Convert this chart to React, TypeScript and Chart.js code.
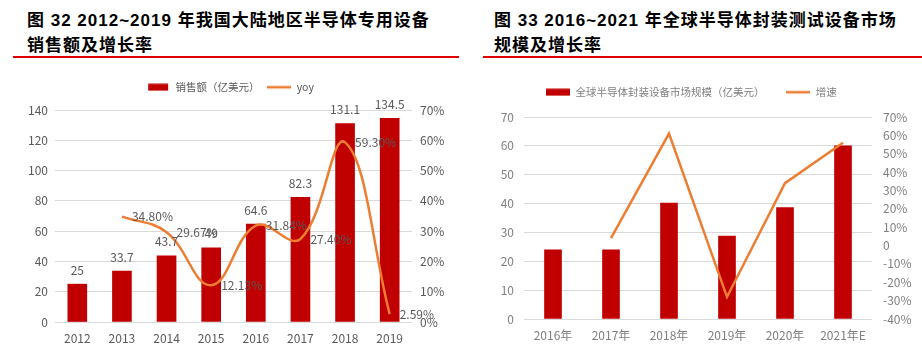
import React, { useEffect, useRef } from 'react';
import { Chart, registerables } from 'chart.js';

Chart.register(...registerables);

// ---- Data: left chart (图32) ----
const leftYears = ['2012', '2013', '2014', '2015', '2016', '2017', '2018', '2019'];
const leftSales = [25, 33.7, 43.7, 49, 64.6, 82.3, 131.1, 134.5];
const leftYoy: (number | null)[] = [null, 34.8, 29.67, 12.13, 31.84, 27.4, 59.3, 2.59];
const leftSalesLabel = '销售额（亿美元）';
const leftYoyLabel = 'yoy';

// ---- Data: right chart (图33) ----
const rightYears = ['2016年', '2017年', '2018年', '2019年', '2020年', '2021年E'];
const rightMarket = [24, 24, 40.2, 28.7, 38.6, 60];
const rightGrowth: (number | null)[] = [null, 4, 61, -28, 34, 56];
const rightMarketLabel = '全球半导体封装设备市场规模（亿美元）';
const rightGrowthLabel = '增速';

const RED = '#C00000';
const ORANGE = '#ED7D31';
const GRID = '#D9D9D9';
const TICK = '#595959';
const FONT = '"Noto Sans CJK SC", "Liberation Sans", sans-serif';

function makeIcon(w: number, h: number, color: string, boxW: number, boxH: number) {
  const c = document.createElement('canvas');
  c.width = boxW;
  c.height = boxH;
  const ctx = c.getContext('2d')!;
  ctx.fillStyle = color;
  ctx.fillRect((boxW - w) / 2, (boxH - h) / 2, w, h);
  return c;
}

function legendOpts(labelColor: string, padding: number, barW: number) {
  const barIcon = makeIcon(barW, 7, RED, 24, 8);
  const lineIcon = makeIcon(24, 2.5, ORANGE, 24, 8);
  return {
    display: true,
    position: 'top' as const,
    labels: {
      usePointStyle: true,
      pointStyleWidth: 24,
      boxHeight: 8,
      color: labelColor,
      font: { family: FONT, size: 10.5 },
      padding,
      sort: (a: any, b: any) => a.datasetIndex - b.datasetIndex,
      generateLabels: (chart: any) => {
        const items = Chart.defaults.plugins.legend.labels.generateLabels(chart);
        items.forEach((it: any) => {
          it.pointStyle = it.datasetIndex === 0 ? barIcon : lineIcon;
        });
        return items;
      },
    },
  };
}

const legendSpacer = (extra: number) => ({
  id: 'legendSpacer',
  beforeLayout(chart: any) {
    const lg = chart.legend;
    if (lg && !lg.__patched) {
      const orig = lg.fit.bind(lg);
      lg.fit = function () {
        orig();
        this.height += extra;
      };
      lg.__patched = true;
    }
  },
});

const leftLabelPlugin = {
  id: 'leftLabels',
  afterDatasetsDraw(chart: any) {
    const ctx = chart.ctx;
    ctx.save();
    ctx.font = `12px ${FONT}`;
    ctx.fillStyle = TICK;
    const barMeta = chart.getDatasetMeta(0);
    barMeta.data.forEach((el: any, i: number) => {
      ctx.textAlign = 'center';
      ctx.textBaseline = 'middle';
      ctx.fillText(String(leftSales[i]), el.x, el.y - 14);
    });
    const lineMeta = chart.getDatasetMeta(1);
    lineMeta.data.forEach((el: any, i: number) => {
      const v = leftYoy[i];
      if (v == null || el.skip) return;
      ctx.textAlign = 'left';
      ctx.textBaseline = 'middle';
      ctx.fillText(v.toFixed(2) + '%', el.x + 10, el.y);
    });
    ctx.restore();
  },
};

function LeftChart() {
  const ref = useRef<HTMLCanvasElement>(null);
  useEffect(() => {
    const chart = new Chart(ref.current!, {
      type: 'bar',
      data: {
        labels: leftYears,
        datasets: [
          {
            type: 'bar',
            label: leftSalesLabel,
            data: leftSales,
            backgroundColor: RED,
            barThickness: 19,
            yAxisID: 'y',
            order: 1,
          },
          {
            type: 'line',
            label: leftYoyLabel,
            data: leftYoy,
            borderColor: ORANGE,
            backgroundColor: ORANGE,
            borderWidth: 2.5,
            pointRadius: 0,
            tension: 0.4,
            yAxisID: 'y1',
            order: 0,
          },
        ],
      } as any,
      options: {
        responsive: false,
        animation: false,
        layout: { padding: { top: 12, left: 0, right: 0, bottom: 0 } },
        plugins: {
          legend: legendOpts(TICK, 8, 20) as any,
          tooltip: { enabled: false },
        },
        scales: {
          x: {
            grid: { display: false, drawTicks: false },
            border: { display: false },
            ticks: { color: TICK, font: { family: FONT, size: 12 }, padding: 9 },
            afterFit: (s: any) => { s.height = 39; },
          },
          y: {
            position: 'left',
            min: 0,
            max: 140,
            ticks: { stepSize: 20, color: TICK, font: { family: FONT, size: 12 }, padding: 7 },
            grid: { color: GRID, lineWidth: 1, drawTicks: false },
            border: { display: false },
            afterFit: (s: any) => { s.width = 55; },
          },
          y1: {
            position: 'right',
            min: 0,
            max: 70,
            ticks: {
              stepSize: 10,
              color: TICK,
              font: { family: FONT, size: 12 },
              padding: 8,
              callback: (v: any) => v + '%',
            },
            grid: { display: false, drawTicks: false },
            border: { display: false },
            afterFit: (s: any) => { s.width = 48; },
          },
        },
      } as any,
      plugins: [leftLabelPlugin, legendSpacer(7.5)],
    });
    return () => chart.destroy();
  }, []);
  return <canvas ref={ref} width={460} height={299} style={{ position: 'absolute', left: 0, top: 62 }} />;
}

function RightChart() {
  const ref = useRef<HTMLCanvasElement>(null);
  useEffect(() => {
    const tickColor = '#7F7F7F';
    const chart = new Chart(ref.current!, {
      type: 'bar',
      data: {
        labels: rightYears,
        datasets: [
          {
            type: 'bar',
            label: rightMarketLabel,
            data: rightMarket,
            backgroundColor: RED,
            barThickness: 17,
            yAxisID: 'y',
            order: 1,
          },
          {
            type: 'line',
            label: rightGrowthLabel,
            data: rightGrowth,
            borderColor: ORANGE,
            backgroundColor: ORANGE,
            borderWidth: 2.5,
            pointRadius: 0,
            tension: 0,
            yAxisID: 'y1',
            order: 0,
          },
        ],
      } as any,
      options: {
        responsive: false,
        animation: false,
        layout: { padding: { top: 3, left: 0, right: 0, bottom: 0 } },
        plugins: {
          legend: legendOpts(tickColor, 22, 24) as any,
          tooltip: { enabled: false },
        },
        scales: {
          x: {
            grid: { display: false, drawTicks: false },
            border: { display: false },
            ticks: { color: tickColor, font: { family: FONT, size: 12 }, padding: 9 },
            afterFit: (s: any) => { s.height = 42; },
          },
          y: {
            position: 'left',
            min: 0,
            max: 70,
            ticks: { stepSize: 10, color: tickColor, font: { family: FONT, size: 12 }, padding: 10 },
            grid: { color: GRID, lineWidth: 1, drawTicks: false },
            border: { display: false },
            afterFit: (s: any) => { s.width = 63; },
          },
          y1: {
            position: 'right',
            min: -40,
            max: 70,
            ticks: {
              stepSize: 10,
              color: tickColor,
              font: { family: FONT, size: 12 },
              padding: 11,
              callback: (v: any) => (v === 0 ? '0' : v + '%'),
            },
            grid: { display: false, drawTicks: false },
            border: { display: false },
            afterFit: (s: any) => { s.width = 50; },
          },
        },
      } as any,
      plugins: [legendSpacer(9.5)],
    });
    return () => chart.destroy();
  }, []);
  return <canvas ref={ref} width={461} height={299} style={{ position: 'absolute', left: 461, top: 62 }} />;
}

const titleStyle: React.CSSProperties = {
  position: 'absolute',
  top: 8,
  fontFamily: '"Liberation Sans", "Noto Sans CJK SC", sans-serif',
  fontWeight: 'bold',
  fontSize: 17,
  letterSpacing: '1px',
  lineHeight: '25px',
  color: '#000',
  whiteSpace: 'nowrap',
};

export default function App() {
  return (
    <div style={{ position: 'absolute', left: 0, top: 0, width: 922, height: 361, background: '#fff', overflow: 'hidden' }}>
      <div style={{ ...titleStyle, left: 27 }}>
        <div>图 32 2012~2019 年我国大陆地区半导体专用设备</div>
        <div>销售额及增长率</div>
      </div>
      <div style={{ position: 'absolute', left: 13, top: 56, width: 446, height: 2, background: '#E00000' }} />
      <div style={{ ...titleStyle, left: 494 }}>
        <div>图 33 2016~2021 年全球半导体封装测试设备市场</div>
        <div>规模及增长率</div>
      </div>
      <div style={{ position: 'absolute', left: 483, top: 56, width: 439, height: 2, background: '#E00000' }} />
      <LeftChart />
      <RightChart />
    </div>
  );
}
